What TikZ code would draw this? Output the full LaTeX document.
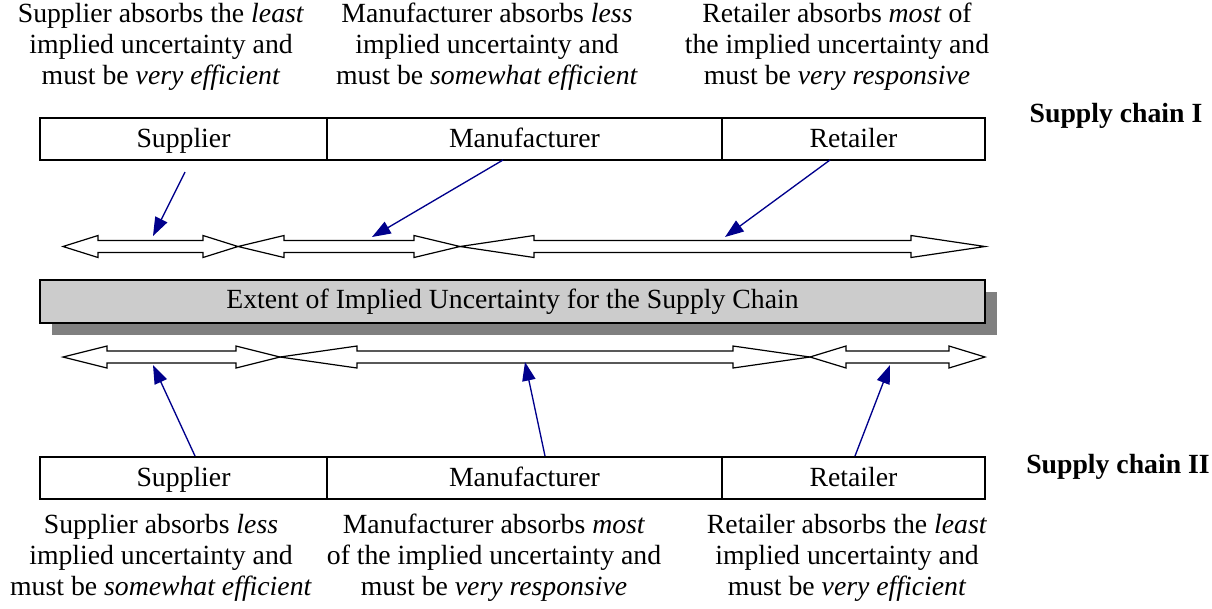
\documentclass[tikz,border=0pt]{standalone}
\usepackage{fontspec}
\setmainfont{Liberation Serif}
\usetikzlibrary{arrows.meta}
\definecolor{ptrblue}{RGB}{0,0,140}
\definecolor{barfill}{RGB}{204,204,204}
\definecolor{barshadow}{RGB}{128,128,128}
\newcommand\bodyfont{\fontsize{20.8}{23.3}\selectfont}
% hollow two-headed arrow: #1 left tip x, #2 right tip x, #3 centre y, #4 head length
\newcommand\hollowarrow[4]{%
  \draw[spanarrow] (#1,#3) -- (#1+#4,#3-11) -- (#1+#4,#3-6) -- (#2-#4,#3-6)
    -- (#2-#4,#3-11) -- (#2,#3) -- (#2-#4,#3+11) -- (#2-#4,#3+6)
    -- (#1+#4,#3+6) -- (#1+#4,#3+11) -- cycle;}
\begin{document}
\begin{tikzpicture}[x=0.75pt,y=-0.75pt,
  cell/.style={draw=black, line width=0.8pt, minimum height=42*0.75pt,
    inner sep=0pt, text height=15pt, text depth=3pt, font=\bodyfont},
  note/.style={align=center, font=\bodyfont, inner sep=0pt},
  chainlabel/.style={font=\bodyfont\bfseries, inner sep=0pt},
  spanarrow/.style={draw=black, fill=white, line width=0.9pt, line join=miter},
  pointer/.style={draw=ptrblue, line width=1pt,
    -{Triangle[length=14pt,width=10pt]}}]
\useasboundingbox (0,0) rectangle (1212,608);

% descriptions for supply chain I
\node[note] (nSupI) at (161,47) {Supplier absorbs the \textit{least}\\implied uncertainty and\\must be \textit{very efficient}};
\node[note] (nManI) at (487,47) {Manufacturer absorbs \textit{less}\\implied uncertainty and\\must be \textit{somewhat efficient}};
\node[note] (nRetI) at (837,47) {Retailer absorbs \textit{most} of\\the implied uncertainty and\\must be \textit{very responsive}};

% supply chain I stages
\node[cell, minimum width=287*0.75pt] (supI) at (183.5,139) {Supplier};
\node[cell, minimum width=395*0.75pt] (manI) at (524.5,139) {Manufacturer};
\node[cell, minimum width=263*0.75pt] (retI) at (853.5,139) {Retailer};
\node[chainlabel] (chainI) at (1116,116) {Supply chain I};

% spans of uncertainty, chain I
\hollowarrow{63}{238}{246.5}{35}
\hollowarrow{238}{460}{246.5}{46}
\hollowarrow{460}{985}{246.5}{74}

% central bar with drop shadow
\fill[barshadow] (52,292) rectangle (997,335);
\node[draw=black, line width=1.1pt, fill=barfill, minimum width=945*0.75pt,
  minimum height=43*0.75pt, inner sep=0pt, font=\bodyfont] (bar) at (512.5,301.5)
  {Extent of Implied Uncertainty for the Supply Chain};

% spans of uncertainty, chain II
\hollowarrow{63}{280}{357}{44}
\hollowarrow{280}{810}{357}{77}
\hollowarrow{810}{985}{357}{36}

% supply chain II stages
\node[cell, minimum width=287*0.75pt] (supII) at (183.5,478) {Supplier};
\node[cell, minimum width=395*0.75pt] (manII) at (524.5,478) {Manufacturer};
\node[cell, minimum width=263*0.75pt] (retII) at (853.5,478) {Retailer};
\node[chainlabel] (chainII) at (1118,467) {Supply chain II};

% descriptions for supply chain II
\node[note] (nSupII) at (161,558) {Supplier absorbs \textit{less}\\implied uncertainty and\\must be \textit{somewhat efficient}};
\node[note] (nManII) at (494,558) {Manufacturer absorbs \textit{most}\\of the implied uncertainty and\\must be \textit{very responsive}};
\node[note] (nRetII) at (847,558) {Retailer absorbs the \textit{least}\\implied uncertainty and\\must be \textit{very efficient}};

% pointer ends
\coordinate (pSupIa) at (185,172);  \coordinate (pSupIb) at (153,236);
\coordinate (pManIa) at (503,160);  \coordinate (pManIb) at (372,237);
\coordinate (pRetIa) at (830,160);  \coordinate (pRetIb) at (725,237);
\coordinate (pSupIIa) at (195,456); \coordinate (pSupIIb) at (153,365);
\coordinate (pManIIa) at (545,456); \coordinate (pManIIb) at (525,362);
\coordinate (pRetIIa) at (855,456); \coordinate (pRetIIb) at (890,365);

\draw[pointer] (pSupIa) -- (pSupIb);
\draw[pointer] (pManIa) -- (pManIb);
\draw[pointer] (pRetIa) -- (pRetIb);
\draw[pointer] (pSupIIa) -- (pSupIIb);
\draw[pointer] (pManIIa) -- (pManIIb);
\draw[pointer] (pRetIIa) -- (pRetIIb);
\end{tikzpicture}
\end{document}
